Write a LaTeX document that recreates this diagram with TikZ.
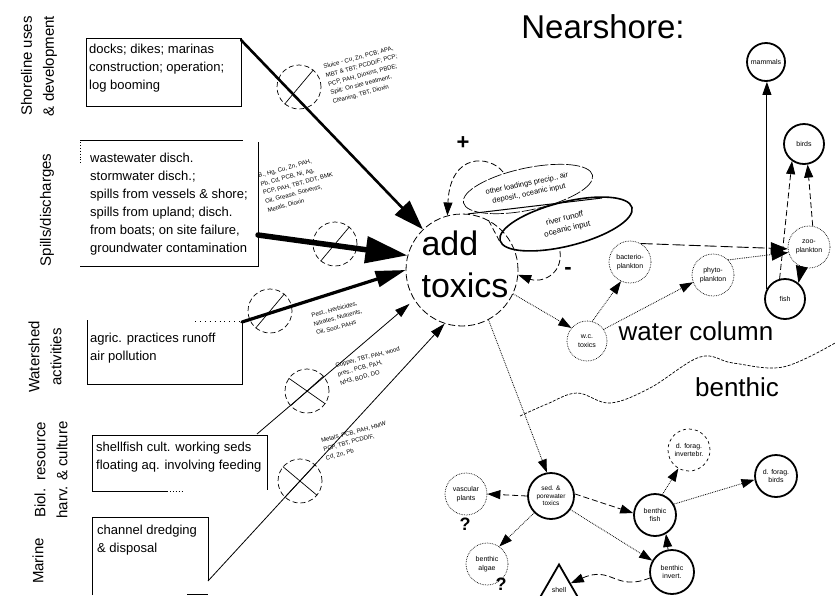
\documentclass[tikz,border=0pt]{standalone}
\usepackage{fontspec}
\setmainfont{Liberation Sans}
\usetikzlibrary{arrows.meta,shapes.geometric}
\begin{document}
\begin{tikzpicture}[x=1pt,y=-1pt,
  every node/.style={inner sep=0pt},
  lbl/.style={rotate=90,align=center,font=\fontsize{15}{22}\selectfont},
  boxtxt/.style={anchor=west,align=left,font=\fontsize{13}{18}\selectfont},
  boxline/.style={line width=0.9pt},
  srccirc/.style={circle,draw,dash pattern=on 5pt off 3pt,minimum size=44pt,line width=0.7pt},
  tinytxt/.style={rotate=15,align=left,font=\fontsize{6}{9}\selectfont},
  arr/.style={-{Triangle[length=13pt 0,width=9pt 0]}},
  bigarr/.style={-{Triangle[length=17pt 0,width=12pt 0]}},
  dotn/.style={circle,draw,densely dotted,line width=0.7pt,minimum size=42pt,align=center,font=\fontsize{7}{8.5}\selectfont},
  dashn/.style={circle,draw,dashed,line width=0.7pt,minimum size=42pt,align=center,font=\fontsize{7}{8.5}\selectfont},
  soln/.style={circle,draw,line width=1.8pt,minimum size=40pt,align=center,font=\fontsize{7}{8.5}\selectfont},
  dotl/.style={densely dotted,line width=0.8pt},
  dashl/.style={dash pattern=on 6pt off 3pt,line width=0.8pt},
  longdash/.style={dash pattern=on 12pt off 4pt,line width=0.9pt},
]
\useasboundingbox (0,0) rectangle (835,595);
\fill[white] (0,0) rectangle (835,595);

% ---------- left labels ----------
\node[lbl] (L1) at (39,66) {Shoreline uses\\\& development};
\node[lbl] (L2) at (47,210) {Spills/discharges};
\node[lbl] (L3) at (45,357) {Watershed\\activities};
\node[lbl] (L4) at (51,470) {Biol.\ \ resource\\harv. \& culture};
\node[lbl] (L5) at (38,561) {Marine};

% ---------- boxes ----------
\draw[boxline] (86,38) rectangle (241,106);
\node[boxtxt] (t1) at (89,68) {docks; dikes; marinas\\construction; operation;\\log booming};
\coordinate (b1out) at (241,40);

\draw[boxline] (80,140) -- (243,140);
\draw[boxline] (258,142) -- (258,266) -- (80,266);
\draw[boxline,dotted] (80,142) -- (80,165);
\node[boxtxt] (t2) at (90,204) {wastewater disch.\\stormwater disch.;\\spills from vessels \& shore;\\spills from upland; disch.\\from boats; on site failure,\\groundwater contamination};
\coordinate (b2out) at (258,235);

\draw[boxline] (87,320) -- (87,384) -- (242,384) -- (242,322);
\draw[boxline,loosely dotted] (195,321) -- (240,321);
\node[boxtxt] (t3) at (90,348) {agric. practices runoff\\air pollution};
\coordinate (b3out) at (242,322);

\draw[boxline] (92,491) -- (92,435) -- (267,435) -- (267,490);
\draw[boxline] (92,491) -- (167,491);
\draw[boxline,dotted] (167,491) -- (183,491);
\node[boxtxt] (t4) at (96,457) {shellfish cult. working seds\\floating aq. involving feeding};
\coordinate (b4out) at (257,434);

\draw[boxline] (92,595) -- (92,517) -- (208,517) -- (208,581);
\draw[boxline] (187,594) -- (208,594);
\node[boxtxt] (t5) at (97,540) {channel dredging\\\& disposal};
\coordinate (b5out) at (208,581);

% ---------- central node ----------
\node[circle,draw,dash pattern=on 7pt off 3pt,line width=0.8pt,minimum size=112pt] (add) at (462,270) {};
\node[align=left,font=\fontsize{34}{42}\selectfont] (addlbl) at (465,264) {add\\toxics};

% ---------- source circles ----------
\node[srccirc] (c1) at (299,87) {};
\draw[line width=0.7pt] (c1.230) -- (c1.50);
\node[srccirc] (c2) at (335,244) {};
\draw[line width=0.7pt] (c2.230) -- (c2.50);
\node[srccirc] (c3) at (270,311) {};
\draw[line width=0.7pt] (c3.230) -- (c3.50);
\node[srccirc] (c4) at (307,391) {};
\draw[line width=0.7pt] (c4.145) -- (c4.325);
\draw[line width=0.7pt] (c4.222) -- (c4.42);
\node[srccirc] (c5) at (300,481) {};
\draw[line width=0.7pt] (c5.140) -- (c5.320);
\draw[line width=0.7pt] (c5.227) -- (c5.47);

% ---------- source arrows ----------
\draw[line width=2.6pt,line cap=round,-{Triangle[length=30pt 0,width=20pt 0]}] (b1out) -- (add);
\draw[line width=5.5pt,line cap=round,-{Triangle[length=42pt 0,width=26pt 0]}] (b2out) -- (add.165);
\draw[line width=3.2pt,line cap=round,-{Triangle[length=30pt 0,width=16pt 0]}] (b3out) -- (add.180);
\draw[line width=0.8pt,-{Triangle[length=15pt 0,width=9pt 0]},shorten >=6pt] (b4out) -- (add.212);
\draw[line width=0.8pt,-{Triangle[length=15pt 0,width=9pt 0]}] (b5out) -- (add.252);

% ---------- tiny annotations ----------
\node[tinytxt] (n1) at (364,75) {Sluice - Cu, Zn, PCB; APA,\\MBT \& TBT; PCDD/F; PCP;\\PCP, PAH, Dioxins, PBDE;\\Spill: On site treatment,\\Cleaning, TBT, Dioxin};
\node[tinytxt] (n2) at (298,184) {B., Hg, Cu, Zn, PAH,\\Pb, Cd, PCB, Ni, Ag,\\PCP, PAH, TBT, DDT, BMK\\Oil, Grease, Solvents,\\Metals, Dioxin};
\node[tinytxt] (n3) at (338,318) {Pest., Herbicides,\\Nitrates, Nutrients,\\Oil, Soot, PAHs};
\node[tinytxt] (n4) at (370,366) {Copper, TBT, PAH, wood\\pres., PCB, PAH,\\NH3, BOD, DO};
\node[tinytxt] (n5) at (356,441) {Metals, PCB, PAH, HMW\\PCP, TBT, PCDD/F,\\Cd, Zn, Pb};

% ---------- title and zone labels ----------
\node[font=\fontsize{33}{33}\selectfont] (title) at (603,27) {Nearshore:};
\node[font=\fontsize{26}{26}\selectfont] (wc) at (696,331) {water column};
\node[font=\fontsize{26}{26}\selectfont] (bn) at (737,387) {benthic};
\draw[dash pattern=on 3pt off 1.5pt,line width=0.7pt] plot[smooth,tension=0.6] coordinates {(520,416) (547,404) (577,393) (610,403) (650,388) (700,357) (733,363) (783,367) (835,343)};

% ---------- loadings ellipses and loops ----------
\node[ellipse,draw,dash pattern=on 14pt off 2pt,line width=0.7pt,minimum width=132pt,minimum height=42pt,rotate=12,align=center,font=\fontsize{7.5}{10}\selectfont] (e1) at (528,189) {other loadings precip., air\\deposit., oceanic input};
\node[ellipse,draw,line width=1.6pt,minimum width=136pt,minimum height=44pt,rotate=14,align=center,font=\fontsize{8}{11}\selectfont] (e2) at (566,224) {river runoff\\oceanic input};
\coordinate (ln1) at (602,198);
\draw[line width=1pt] (add.84) -- (ln1);
\draw[dashl] (add.62) -- (e2.west);
\coordinate (pl) at (503,172);
\draw[dashl,arr] (pl) .. controls (490,155) and (450,152) .. (add.105);
\coordinate (nl) at (560,251);
\draw[dashl,arr] (nl) .. controls (563,276) and (540,283) .. (add.-5);
\node[font=\fontsize{22}{22}\selectfont\bfseries] (plus) at (463,143) {+};
\node[font=\fontsize{22}{22}\selectfont\bfseries] (minus) at (568,271) {-};

% ---------- water column web ----------
\node[dotn,minimum size=40pt] (tox) at (587,341) {w.c.\\toxics};
\node[dotn] (bact) at (630,262) {bacterio-\\plankton};
\node[dotn] (phyto) at (713,275) {phyto-\\plankton};
\node[dotn] (zoo) at (809,247) {zoo-\\plankton};
\node[soln] (fish) at (785,299) {fish};
\node[soln] (birds) at (804,144) {birds};
\node[soln,minimum size=38pt] (mam) at (766,62) {mammals};

\draw[dotl,arr] (add.-25) -- (tox.140);
\draw[dotl,arr] (tox.75) -- (bact.245);
\draw[dotl,arr] (tox.35) -- (phyto.200);
\draw[longdash,bigarr] (bact.60) -- (zoo.185);
\draw[dotl,bigarr] (phyto.45) -- (zoo.195);
\draw[dotl,bigarr] (zoo.250) -- (fish.50);
\draw[dashl,arr] (fish.105) -- (birds.235);
\draw[dashl,arr] (zoo.80) -- (birds.280);
\draw[line width=0.9pt,arr] (fish.150) -- (fish.150 |- mam.south);

% ---------- benthic web ----------
\node[soln,minimum size=46pt,font=\fontsize{6.5}{7.5}\selectfont] (sed) at (551,496) {sed. \&\\porewater\\toxics};
\node[dotn] (vasc) at (466,494) {vascular\\plants};
\node[font=\fontsize{18}{18}\selectfont\bfseries] (q1) at (465,524) {?};
\node[dotn] (balg) at (487,564) {benthic\\algae};
\node[font=\fontsize{18}{18}\selectfont\bfseries] (q2) at (501,584) {?};
\node[soln,minimum size=42pt] (bfish) at (655,515) {benthic\\fish};
\node[soln,minimum size=44pt] (binv) at (672,572) {benthic\\invert.};
\node[dashn] (dfi) at (689,450) {d. forag.\\invertebr.};
\node[soln,minimum size=42pt] (dfb) at (776,476) {d. forag.\\birds};
\node[regular polygon,regular polygon sides=3,draw,line width=1.8pt,minimum size=51pt,font=\fontsize{7}{8.5}\selectfont] (tri) at (559,590) {shell};

\draw[dotl,arr] (add.-62) -- (sed.100);
\draw[dashl,arr] (sed.180) -- (vasc.0);
\draw[dotl,arr] (sed.225) -- (balg.55);
\draw[dashl,arr] (sed.5) -- (bfish.175);
\draw[dotl,arr] (sed.-35) -- (binv.150);
\draw[line width=0.8pt,arr] (binv.100) -- (bfish.-60);
\draw[dotl,arr] (bfish.70) -- (dfi.240);
\draw[dotl,arr] (bfish.30) -- (dfb.190);
\draw[dashl,arr] (binv.195) .. controls (615,592) and (612,565) .. (tri.30);
\end{tikzpicture}
\end{document}
